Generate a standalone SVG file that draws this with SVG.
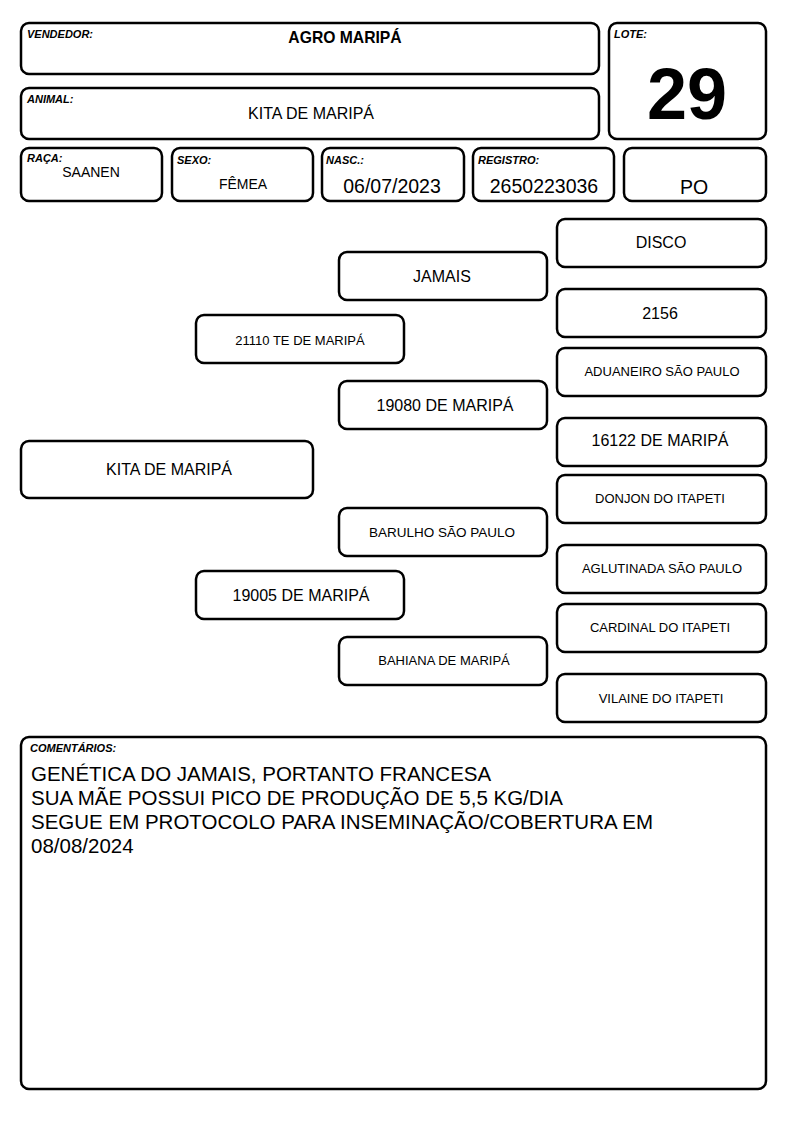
<svg xmlns="http://www.w3.org/2000/svg" width="794" height="1123" viewBox="0 0 794 1123">
<style>
.b{fill:#fff;stroke:#000;stroke-width:2.5}
text{font-family:"Liberation Sans",Arial,sans-serif;fill:#000}
.lbl{font-size:11px;font-weight:bold;font-style:italic}
.c{text-anchor:middle}
.s{font-size:13px}
.m{font-size:16px}
.l{font-size:19.5px}
.cm{font-size:20.5px}
</style>
<rect width="794" height="1123" fill="#fff"/>
<g id="vendedor"><rect class="b" x="21" y="23" width="578" height="51" rx="8"/><text class="lbl" x="27" y="38">VENDEDOR:</text><text class="c" x="345" y="43" font-size="15.7" font-weight="bold">AGRO MARIPÁ</text></g>
<g id="lote"><rect class="b" x="609" y="23" width="157" height="116" rx="8"/><text class="lbl" x="614" y="38">LOTE:</text><text class="c" x="687" y="119" font-size="72" font-weight="bold">29</text></g>
<g id="animal"><rect class="b" x="21" y="88" width="578" height="51" rx="8"/><text class="lbl" x="27" y="103">ANIMAL:</text><text class="c" x="311" y="119" font-size="16">KITA DE MARIPÁ</text></g>
<g id="raca"><rect class="b" x="21" y="148" width="141" height="53" rx="8"/><text class="lbl" x="27" y="162">RAÇA:</text><text class="c" x="91" y="177" font-size="14">SAANEN</text></g>
<g id="sexo"><rect class="b" x="172" y="148" width="141" height="53" rx="8"/><text class="lbl" x="177" y="164">SEXO:</text><text class="c" x="243" y="189" font-size="14">FÊMEA</text></g>
<g id="nasc"><rect class="b" x="322" y="148" width="142" height="53" rx="8"/><text class="lbl" x="326" y="164">NASC.:</text><text class="c l" x="392" y="193">06/07/2023</text></g>
<g id="registro"><rect class="b" x="473" y="148" width="141" height="53" rx="8"/><text class="lbl" x="478" y="164">REGISTRO:</text><text class="c l" x="544" y="193">2650223036</text></g>
<g id="po"><rect class="b" x="624" y="148" width="142" height="53" rx="8"/><text class="c l" x="694" y="194">PO</text></g>
<g id="disco"><rect class="b" x="557" y="219" width="209" height="48" rx="8"/><text class="c m" x="661" y="248">DISCO</text></g>
<g id="jamais"><rect class="b" x="339" y="252" width="208" height="48" rx="8"/><text class="c m" x="442" y="282">JAMAIS</text></g>
<g id="n2156"><rect class="b" x="557" y="289" width="209" height="48" rx="8"/><text class="c m" x="660" y="319">2156</text></g>
<g id="n21110"><rect class="b" x="196" y="315" width="208" height="48" rx="8"/><text class="c s" x="300" y="345">21110 TE DE MARIPÁ</text></g>
<g id="aduaneiro"><rect class="b" x="557" y="348" width="209" height="48" rx="8"/><text class="c s" x="662" y="376">ADUANEIRO SÃO PAULO</text></g>
<g id="n19080"><rect class="b" x="339" y="381" width="208" height="48" rx="8"/><text class="c m" x="445" y="411">19080 DE MARIPÁ</text></g>
<g id="n16122"><rect class="b" x="557" y="418" width="209" height="48" rx="8"/><text class="c m" x="660" y="446">16122 DE MARIPÁ</text></g>
<g id="kita"><rect class="b" x="21" y="441" width="292" height="57" rx="8"/><text class="c" x="169" y="475" font-size="16">KITA DE MARIPÁ</text></g>
<g id="donjon"><rect class="b" x="557" y="475" width="209" height="48" rx="8"/><text class="c s" x="660" y="503">DONJON DO ITAPETI</text></g>
<g id="barulho"><rect class="b" x="339" y="508" width="208" height="48" rx="8"/><text class="c" x="442" y="537" font-size="13.5">BARULHO SÃO PAULO</text></g>
<g id="aglutinada"><rect class="b" x="557" y="545" width="209" height="48" rx="8"/><text class="c s" x="662" y="573">AGLUTINADA SÃO PAULO</text></g>
<g id="n19005"><rect class="b" x="196" y="571" width="208" height="48" rx="8"/><text class="c m" x="301" y="601">19005 DE MARIPÁ</text></g>
<g id="cardinal"><rect class="b" x="557" y="604" width="209" height="48" rx="8"/><text class="c s" x="660" y="632">CARDINAL DO ITAPETI</text></g>
<g id="bahiana"><rect class="b" x="339" y="637" width="208" height="48" rx="8"/><text class="c s" x="444" y="665">BAHIANA DE MARIPÁ</text></g>
<g id="vilaine"><rect class="b" x="557" y="674" width="209" height="48" rx="8"/><text class="c s" x="661" y="703">VILAINE DO ITAPETI</text></g>
<g id="connectors"></g>
<g id="comentarios"><rect class="b" x="21" y="737" width="745" height="352" rx="8"/><text class="lbl" x="30" y="752">COMENTÁRIOS:</text>
<text class="cm" x="31" y="781">GENÉTICA DO JAMAIS, PORTANTO FRANCESA</text>
<text class="cm" x="31" y="805">SUA MÃE POSSUI PICO DE PRODUÇÃO DE 5,5 KG/DIA</text>
<text class="cm" x="31" y="829">SEGUE EM PROTOCOLO PARA INSEMINAÇÃO/COBERTURA EM</text>
<text class="cm" x="31" y="853">08/08/2024</text></g>
</svg>
